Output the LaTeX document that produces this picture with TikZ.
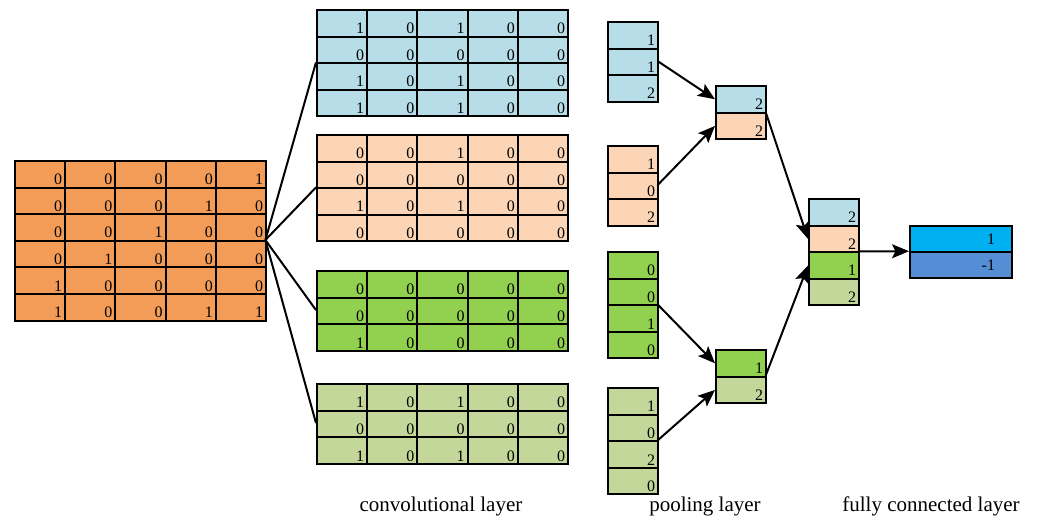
\documentclass[tikz,border=0pt]{standalone}
\usepackage{fontspec}
\setmainfont{Liberation Serif}
\usetikzlibrary{arrows.meta}
\definecolor{cinput}{HTML}{F39C58}
\definecolor{cblue}{HTML}{B7DDE8}
\definecolor{cpeach}{HTML}{FBD5B5}
\definecolor{cgreen}{HTML}{92D050}
\definecolor{clgreen}{HTML}{C4D79B}
\definecolor{ccyan}{HTML}{00B0F0}
\definecolor{cdblue}{HTML}{558ED5}
\newcommand{\cellgrid}[5]{%
  \foreach \rowlist [count=\r] in {#5}{%
    \foreach \v [count=\c] in \rowlist{%
      \node[cell, fill=#4] (#1-\r-\c) at ({#2+(\c-1)*50.2},{#3+(\r-1)*26.6}) {\v};
    }%
  }%
}
\begin{document}
\begin{tikzpicture}[x=1pt,y=-1pt,
  cell/.style={draw, line width=2pt, anchor=north west, minimum width=50.2pt,
    minimum height=26.6pt, inner ysep=0pt, inner xsep=3pt, text width=44.2pt,
    align=right, text height=21pt, text depth=0pt,
    font=\fontsize{16}{18}\selectfont},
  outcell/.style={draw, line width=2pt, anchor=north west, minimum width=102pt,
    minimum height=26pt, inner ysep=0pt, inner xsep=17pt, text width=68pt,
    align=right, font=\fontsize{16}{18}\selectfont},
  frame/.style={anchor=north west, inner sep=0pt},
  link/.style={line width=2pt},
  arr/.style={line width=2pt, -{Stealth[length=17pt,width=14pt,inset=3.5pt]}},
  lbl/.style={anchor=base, font=\fontsize{21}{24}\selectfont}]
\useasboundingbox (0,0) rectangle (1041,521);

% input matrix
\node[frame, minimum width=251pt, minimum height=159.6pt] (inp) at (14,160) {};
\cellgrid{in}{14}{160}{cinput}{{0,0,0,0,1},{0,0,0,1,0},{0,0,1,0,0},{0,1,0,0,0},{1,0,0,0,0},{1,0,0,1,1}}

% convolutional layer
\node[frame, minimum width=251pt, minimum height=106.4pt] (c1) at (316,9) {};
\cellgrid{ca}{316}{9}{cblue}{{1,0,1,0,0},{0,0,0,0,0},{1,0,1,0,0},{1,0,1,0,0}}
\node[frame, minimum width=251pt, minimum height=106.4pt] (c2) at (316,134) {};
\cellgrid{cb}{316}{134}{cpeach}{{0,0,1,0,0},{0,0,0,0,0},{1,0,1,0,0},{0,0,0,0,0}}
\node[frame, minimum width=251pt, minimum height=79.8pt] (c3) at (316,270) {};
\cellgrid{cc}{316}{270}{cgreen}{{0,0,0,0,0},{0,0,0,0,0},{1,0,0,0,0}}
\node[frame, minimum width=251pt, minimum height=79.8pt] (c4) at (316,383) {};
\cellgrid{cd}{316}{383}{clgreen}{{1,0,1,0,0},{0,0,0,0,0},{1,0,1,0,0}}

% pooling columns
\node[frame, minimum width=50.2pt, minimum height=79.8pt] (p1) at (607,21) {};
\cellgrid{pa}{607}{21}{cblue}{{1},{1},{2}}
\node[frame, minimum width=50.2pt, minimum height=79.8pt] (p2) at (607,145) {};
\cellgrid{pb}{607}{145}{cpeach}{{1},{0},{2}}
\node[frame, minimum width=50.2pt, minimum height=106.4pt] (p3) at (607,251) {};
\cellgrid{pc}{607}{251}{cgreen}{{0},{0},{1},{0}}
\node[frame, minimum width=50.2pt, minimum height=106.4pt] (p4) at (607,387) {};
\cellgrid{pd}{607}{387}{clgreen}{{1},{0},{2},{0}}

% pooled boxes
\node[frame, minimum width=50.2pt, minimum height=53.2pt] (q1) at (715,85) {};
\node[cell, fill=cblue] (q1-1) at (715,85) {2};
\node[cell, fill=cpeach] (q1-2) at (715,111.6) {2};
\node[frame, minimum width=50.2pt, minimum height=53.2pt] (q2) at (715,349) {};
\node[cell, fill=cgreen] (q2-1) at (715,349) {1};
\node[cell, fill=clgreen] (q2-2) at (715,375.6) {2};

% fully connected column
\node[frame, minimum width=50.2pt, minimum height=106.4pt] (fc) at (808,198) {};
\node[cell, fill=cblue] (fc-1) at (808,198) {2};
\node[cell, fill=cpeach] (fc-2) at (808,224.6) {2};
\node[cell, fill=cgreen] (fc-3) at (808,251.2) {1};
\node[cell, fill=clgreen] (fc-4) at (808,277.8) {2};

% output
\node[frame, minimum width=102pt, minimum height=52pt] (out) at (909,225) {};
\node[outcell, fill=ccyan] (out-1) at (909,225) {1};
\node[outcell, fill=cdblue] (out-2) at (909,251) {-1};

% connectors
\draw[link] (inp.east) -- (c1.west);
\draw[link] (inp.east) -- (c2.west);
\draw[link] (inp.east) -- (c3.west);
\draw[link] (inp.east) -- (c4.west);
\draw[arr] (p1.east) -- (q1-1.west);
\draw[arr] (p2.east) -- (q1-2.west);
\draw[arr] (p3.east) -- (q2-1.west);
\draw[arr] (p4.east) -- (q2-2.west);
\draw[arr] (q1.east) -- (fc-2.west);
\draw[arr] (q2.east) -- (fc-3.west);
\draw[arr] (fc.east) -- (out.west);

% labels
\node[lbl] (t1) at (441,511) {convolutional layer};
\node[lbl] (t2) at (705,511) {pooling layer};
\node[lbl] (t3) at (931,511) {fully connected layer};
\end{tikzpicture}
\end{document}
